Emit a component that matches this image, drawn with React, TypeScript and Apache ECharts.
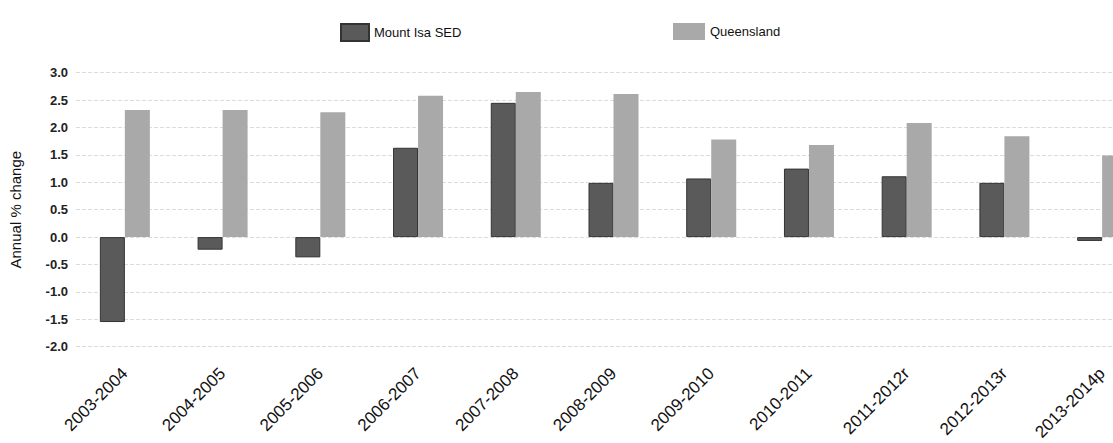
import React, { useEffect, useRef } from "react";
import * as echarts from "echarts";

const categories = [
  "2003-2004", "2004-2005", "2005-2006", "2006-2007", "2007-2008", "2008-2009",
  "2009-2010", "2010-2011", "2011-2012r", "2012-2013r", "2013-2014p",
];
const mountIsa = [-1.55, -0.23, -0.37, 1.63, 2.45, 0.99, 1.07, 1.25, 1.11, 0.99, -0.07];
const queensland = [2.32, 2.32, 2.28, 2.58, 2.65, 2.61, 1.78, 1.68, 2.08, 1.84, 1.49];
const yMin = -2;
const yMax = 3;
const yStep = 0.5;

export default function App() {
  const ref = useRef<HTMLDivElement>(null);
  useEffect(() => {
    if (!ref.current) return;
    const chart = echarts.init(ref.current, null, { renderer: "svg" });
    const font = "'Liberation Sans', Arial, sans-serif";
    chart.setOption({
      animation: false,
      backgroundColor: "#ffffff",
      textStyle: { fontFamily: font },
      legend: [
        {
          data: ["Mount Isa SED"],
          icon: "rect",
          left: 335,
          top: 18,
          itemWidth: 28,
          itemHeight: 17,
          itemGap: 10,
          textStyle: { fontFamily: font, fontSize: 13, color: "#111" },
        },
        {
          data: ["Queensland"],
          icon: "rect",
          left: 668,
          top: 18,
          itemWidth: 32,
          itemHeight: 17,
          textStyle: { fontFamily: font, fontSize: 13, color: "#111" },
        },
      ],
      grid: { left: 75, right: 0, top: 72.7, bottom: 95.3, containLabel: false },
      xAxis: {
        type: "category",
        data: categories,
        position: "bottom",
        axisLine: { show: false, onZero: false },
        axisTick: { show: false },
        axisLabel: {
          rotate: 45,
          interval: 0,
          margin: 24,
          fontFamily: font,
          fontSize: 17,
          color: "#111",
        },
      },
      yAxis: {
        type: "value",
        min: yMin,
        max: yMax,
        interval: yStep,
        name: "Annual % change",
        nameLocation: "middle",
        nameGap: 53,
        nameTextStyle: { fontFamily: font, fontSize: 15, color: "#111" },
        axisLine: { show: false },
        axisTick: { show: false },
        axisLabel: {
          margin: 8,
          fontFamily: font,
          fontSize: 13,
          fontWeight: "bold",
          color: "#222",
          formatter: (v: number) => v.toFixed(1),
        },
        splitLine: { show: true, lineStyle: { color: "#dcdcdc", type: "dashed", width: 1 } },
      },
      series: [
        {
          name: "Mount Isa SED",
          type: "bar",
          data: mountIsa,
          barWidth: 25,
          barGap: "0%",
          itemStyle: { color: "#5a5a5a", borderColor: "#333", borderWidth: 1 },
        },
        {
          name: "Queensland",
          type: "bar",
          data: queensland,
          barWidth: 25,
          barGap: "0%",
          itemStyle: { color: "#a9a9a9" },
        },
      ],
    });
    return () => chart.dispose();
  }, []);
  return (
    <div style={{ position: "fixed", left: 0, top: 0, width: 1113, height: 443, overflow: "hidden" }}>
      <div ref={ref} style={{ width: 1151, height: 443 }} />
    </div>
  );
}
